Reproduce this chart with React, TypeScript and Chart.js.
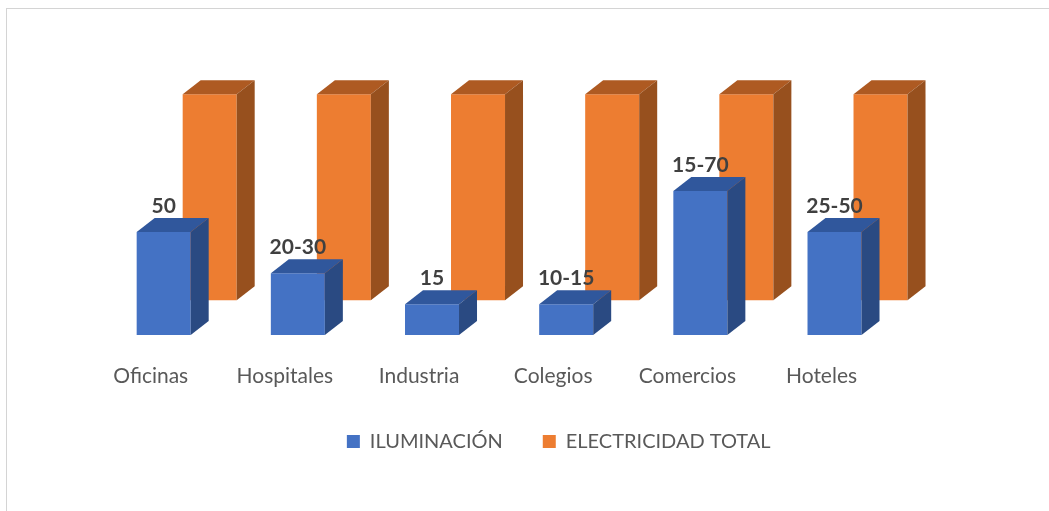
import React, { useEffect, useRef } from "react";
import { Chart, registerables } from "chart.js";

Chart.register(...registerables);

const categories = ["Oficinas", "Hospitales", "Industria", "Colegios", "Comercios", "Hoteles"];
const iluminacion = [50, 30, 15, 15, 70, 50];
const iluminacionLabels = ["50", "20-30", "15", "10-15", "15-70", "25-50"];
const electricidadTotal = [100, 100, 100, 100, 100, 100];
const seriesNames = ["ILUMINACIÓN", "ELECTRICIDAD TOTAL"];

const FONT = 'Lato, "Open Sans", "DejaVu Sans", sans-serif';
const DX = 18;
const DY = 14;

const depthPlugin = {
  id: "depth3d",
  afterDatasetDraw(chart: any, args: any) {
    const ds: any = chart.data.datasets[args.index];
    const ctx = chart.ctx;
    const meta = args.meta;
    ctx.save();
    meta.data.forEach((bar: any) => {
      const { x, y, base, width } = bar.getProps(["x", "y", "base", "width"], true);
      const l = x - width / 2;
      const r = x + width / 2;
      ctx.fillStyle = ds.topColor;
      ctx.beginPath();
      ctx.moveTo(l, y);
      ctx.lineTo(r, y);
      ctx.lineTo(r + DX, y - DY);
      ctx.lineTo(l + DX, y - DY);
      ctx.closePath();
      ctx.fill();
      ctx.fillStyle = ds.sideColor;
      ctx.beginPath();
      ctx.moveTo(r, y);
      ctx.lineTo(r + DX, y - DY);
      ctx.lineTo(r + DX, base - DY);
      ctx.lineTo(r, base);
      ctx.closePath();
      ctx.fill();
    });
    if (ds.valueLabels) {
      ctx.fillStyle = "#404040";
      ctx.font = `bold 21px ${FONT}`;
      ctx.textAlign = "center";
      ctx.textBaseline = "alphabetic";
      meta.data.forEach((bar: any, i: number) => {
        const { x, y } = bar.getProps(["x", "y"], true);
        ctx.fillText(ds.valueLabels[i], x, y - DY - 5);
      });
    }
    ctx.restore();
  },
};

export default function App() {
  const ref = useRef<HTMLCanvasElement | null>(null);
  useEffect(() => {
    if (!ref.current) return;
    const chart = new Chart(ref.current, {
      type: "bar",
      data: {
        labels: categories,
        datasets: [
          {
            label: seriesNames[0],
            data: iluminacion,
            backgroundColor: "#4472C4",
            yAxisID: "y",
            topColor: "#30579C",
            sideColor: "#2A4A82",
            valueLabels: iluminacionLabels,
          } as any,
          {
            label: seriesNames[1],
            data: electricidadTotal,
            backgroundColor: "#ED7D31",
            yAxisID: "y2",
            topColor: "#AE5A22",
            sideColor: "#97501E",
          } as any,
        ],
      },
      options: {
        responsive: false,
        animation: false,
        events: [],
        datasets: {
          bar: {
            categoryPercentage: 0.6858,
            barPercentage: 1.174,
          },
        },
        layout: { padding: { left: 68.4, right: 0, top: 88, bottom: 49.5 } },
        scales: {
          x: {
            grid: { display: false, drawTicks: false },
            border: { display: false },
            ticks: {
              color: "#595959",
              font: { family: FONT, size: 21 },
              padding: 29,
              labelOffset: -36,
              maxRotation: 0,
              autoSkip: false,
            },
            afterFit(scale: any) {
              scale.height = 56.5;
            },
          },
          y: {
            position: "left",
            min: 0,
            max: 120,
            grid: { display: false, drawTicks: false },
            border: { display: false },
            ticks: { display: false },
            afterFit(scale: any) {
              scale.width = 51.2;
            },
          },
          y2: {
            position: "right",
            min: -16.93,
            max: 103.07,
            grid: { display: false, drawTicks: false },
            border: { display: false },
            ticks: { display: false },
            afterFit(scale: any) {
              scale.width = 124.4;
            },
          },
        },
        plugins: {
          legend: {
            position: "bottom",
            labels: {
              color: "#595959",
              font: { family: FONT, size: 20 },
              boxWidth: 13,
              boxHeight: 13,
              padding: 40,
            },
          },
          tooltip: { enabled: false },
        },
      },
      plugins: [depthPlugin],
    });
    return () => chart.destroy();
  }, []);

  return (
    <div>
      <div
        style={{
          position: "fixed",
          left: 6,
          top: 8,
          width: 1100,
          height: 600,
          border: "1px solid #d4d4d4",
          background: "#fff",
        }}
      />
      <canvas
        ref={ref}
        width={1049}
        height={511}
        style={{ position: "fixed", left: 0, top: 0, width: 1049, height: 511, display: "block" }}
      />
    </div>
  );
}
